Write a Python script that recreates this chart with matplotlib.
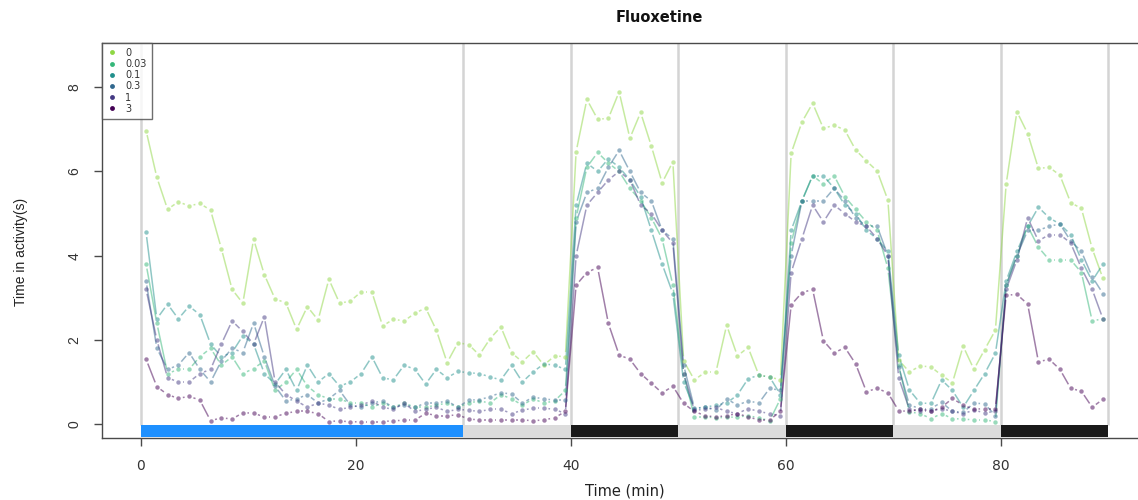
import numpy as np
import matplotlib
matplotlib.use("Agg")
import matplotlib.pyplot as plt
from matplotlib.collections import LineCollection
from matplotlib.lines import Line2D
from matplotlib.patches import Rectangle

# ---- data: time in activity (s) per minute bin, by fluoxetine dose ----
time_min = np.arange(90) + 0.5

dose_labels = ["0", "0.03", "0.1", "0.3", "1", "3"]
dose_colors = ["#8FD744", "#35B779", "#21908C", "#31688E", "#443A83", "#440154"]

dose_0 = [6.97, 5.86, 5.10, 5.28, 5.18, 5.24, 5.08, 4.17, 3.20, 2.87,
          4.39, 3.55, 2.97, 2.88, 2.25, 2.79, 2.47, 3.44, 2.87, 2.92,
          3.14, 3.14, 2.33, 2.49, 2.45, 2.63, 2.76, 2.23, 1.46, 1.93,
          1.89, 1.64, 2.03, 2.31, 1.69, 1.48, 1.72, 1.40, 1.62, 1.60,
          6.47, 7.71, 7.24, 7.26, 7.89, 6.79, 7.40, 6.60, 5.73, 6.23,
          1.50, 1.05, 1.23, 1.23, 2.35, 1.62, 1.82, 1.16, 1.12, 1.05,
          6.43, 7.17, 7.62, 7.02, 7.10, 6.98, 6.51, 6.25, 6.01, 5.32,
          1.52, 1.24, 1.38, 1.36, 1.16, 0.98, 1.85, 1.30, 1.77, 2.23,
          5.70, 7.42, 6.90, 6.07, 6.10, 5.91, 5.26, 5.12, 4.17, 3.46]

dose_003 = [3.80, 2.40, 1.20, 1.30, 1.30, 1.60, 1.80, 1.40, 1.60, 1.20,
            1.32, 1.50, 0.80, 1.00, 1.30, 0.90, 0.70, 0.60, 0.60, 0.50,
            0.50, 0.40, 0.50, 0.40, 0.50, 0.40, 0.40, 0.45, 0.50, 0.40,
            0.50, 0.55, 0.50, 0.70, 0.60, 0.45, 0.60, 0.50, 0.55, 0.80,
            4.90, 6.10, 6.45, 6.20, 6.00, 5.60, 5.30, 4.90, 4.40, 3.30,
            1.20, 0.17, 0.17, 0.15, 0.16, 0.17, 0.20, 0.15, 0.08, 0.60,
            4.30, 5.30, 5.90, 5.70, 5.90, 5.40, 5.10, 4.80, 4.60, 3.70,
            1.40, 0.29, 0.25, 0.13, 0.25, 0.13, 0.12, 0.10, 0.10, 0.06,
            3.30, 4.00, 4.70, 4.20, 3.90, 3.90, 3.90, 3.60, 2.45, 2.50]

dose_01 = [4.55, 2.50, 2.85, 2.50, 2.80, 2.60, 1.90, 1.60, 1.70, 2.10,
           1.90, 1.20, 0.95, 1.30, 0.80, 1.40, 1.00, 1.20, 0.90, 1.00,
           1.20, 1.60, 1.10, 1.05, 1.40, 1.30, 0.95, 1.30, 1.10, 1.25,
           1.22, 1.20, 1.12, 1.05, 1.40, 1.00, 1.24, 1.43, 1.40, 1.30,
           5.20, 6.20, 6.00, 6.30, 6.10, 5.80, 5.40, 4.60, 3.80, 3.10,
           1.00, 0.37, 0.40, 0.45, 0.50, 0.69, 1.08, 1.16, 1.12, 0.70,
           4.60, 5.30, 5.90, 5.90, 5.60, 5.20, 5.00, 4.60, 4.40, 4.10,
           1.64, 0.81, 0.50, 0.49, 1.05, 0.80, 0.40, 0.80, 1.20, 1.68,
           3.40, 4.10, 4.70, 5.15, 4.90, 4.75, 4.50, 3.90, 3.40, 3.80]

dose_03 = [3.40, 1.80, 1.30, 1.40, 1.70, 1.30, 1.00, 1.50, 1.80, 1.70,
           2.40, 1.60, 0.90, 0.55, 0.60, 0.70, 0.50, 0.60, 0.80, 0.45,
           0.40, 0.50, 0.55, 0.40, 0.45, 0.40, 0.50, 0.50, 0.55, 0.40,
           0.57, 0.58, 0.65, 0.75, 0.71, 0.50, 0.64, 0.60, 0.57, 0.57,
           4.80, 5.50, 5.60, 6.10, 6.50, 6.00, 5.50, 5.30, 4.60, 4.40,
           1.40, 0.38, 0.40, 0.33, 0.60, 0.45, 0.55, 0.50, 0.85, 0.80,
           4.00, 5.30, 5.30, 5.30, 5.60, 5.30, 4.90, 4.70, 4.70, 4.00,
           1.36, 0.45, 0.37, 0.37, 0.52, 0.30, 0.28, 0.50, 0.48, 0.20,
           3.30, 4.00, 4.60, 4.60, 4.70, 4.75, 4.35, 4.10, 3.50, 3.10]

dose_1 = [3.20, 2.00, 1.10, 1.00, 1.00, 1.20, 1.30, 1.90, 2.45, 2.20,
          1.90, 2.55, 1.00, 0.70, 0.55, 0.40, 0.50, 0.45, 0.35, 0.40,
          0.45, 0.55, 0.40, 0.35, 0.50, 0.30, 0.35, 0.40, 0.30, 0.35,
          0.33, 0.30, 0.35, 0.35, 0.25, 0.33, 0.38, 0.38, 0.35, 0.25,
          4.00, 5.20, 5.50, 5.80, 6.00, 5.80, 5.20, 5.00, 4.60, 4.30,
          1.20, 0.33, 0.35, 0.40, 0.30, 0.25, 0.37, 0.30, 0.25, 0.20,
          3.60, 4.40, 5.20, 4.80, 5.20, 5.00, 4.80, 4.70, 4.40, 4.00,
          1.10, 0.35, 0.30, 0.30, 0.37, 0.30, 0.25, 0.33, 0.27, 0.30,
          3.20, 3.90, 4.90, 4.35, 4.50, 4.50, 4.30, 3.70, 3.20, 2.50]

dose_3 = [1.54, 0.89, 0.70, 0.61, 0.66, 0.57, 0.08, 0.15, 0.12, 0.27,
          0.26, 0.17, 0.17, 0.26, 0.30, 0.30, 0.25, 0.06, 0.08, 0.05,
          0.06, 0.06, 0.06, 0.08, 0.09, 0.09, 0.26, 0.20, 0.20, 0.22,
          0.12, 0.10, 0.10, 0.10, 0.10, 0.10, 0.08, 0.10, 0.15, 0.30,
          3.30, 3.60, 3.72, 2.39, 1.64, 1.54, 1.20, 0.97, 0.74, 0.90,
          0.49, 0.30, 0.20, 0.17, 0.20, 0.25, 0.17, 0.10, 0.10, 0.30,
          2.83, 3.12, 3.20, 1.98, 1.69, 1.82, 1.43, 0.77, 0.85, 0.74,
          0.32, 0.30, 0.37, 0.30, 0.40, 0.61, 0.45, 0.35, 0.37, 0.37,
          3.06, 3.08, 2.85, 1.48, 1.54, 1.30, 0.85, 0.78, 0.40, 0.59]

series = [dose_0, dose_003, dose_01, dose_03, dose_1, dose_3]

# light-phase schedule below the curves
phase_edges = [0, 30, 40, 50, 60, 70, 80, 90]
phase_colors = ["#1E90FF", "#DCDCDC", "#1A1A1A", "#DCDCDC", "#1A1A1A", "#DCDCDC", "#1A1A1A"]

# ---- figure ----
W, H, DPI = 1138, 500, 100
fig = plt.figure(figsize=(W / DPI, H / DPI), dpi=DPI)
ax = fig.add_axes([102 / W, 1 - 438 / H, 1045 / W, 395 / H])
ax.set_xlim(-3.6, 93.6)
ax.set_ylim(-0.33, 9.05)

frame_col = "#4a4a4a"
for s in ax.spines.values():
    s.set_color(frame_col)
    s.set_linewidth(1.0)
ax.spines["right"].set_visible(False)

# phase boundaries
for xe in phase_edges:
    ax.plot([xe, xe], [-0.03, 9.05], color="#d4d4d4", lw=1.8, zorder=1,
            solid_capstyle="butt")

# phase bars
for (x0, x1), c in zip(zip(phase_edges[:-1], phase_edges[1:]), phase_colors):
    ax.add_patch(Rectangle((x0, -0.31), x1 - x0, 0.28, facecolor=c,
                           edgecolor="none", zorder=2))


def draw_type_b(ax, x, y, color, gap_px=4.6, lw=1.1, alpha=0.5, ms=3.2):
    """Points joined by line segments that stop short of each point."""
    fig.canvas.draw()
    pts = ax.transData.transform(np.column_stack([x, y]))
    inv = ax.transData.inverted()
    segs = []
    for p, q in zip(pts[:-1], pts[1:]):
        d = q - p
        L = np.hypot(*d)
        if L <= 2 * gap_px + 0.8:
            continue
        u = d / L
        segs.append([inv.transform(p + u * gap_px), inv.transform(q - u * gap_px)])
    lc = LineCollection(segs, colors=color, linewidths=lw, alpha=alpha, zorder=3)
    ax.add_collection(lc)
    ax.plot(x, y, linestyle="none", marker="o", ms=ms, mec="none",
            mfc=color, alpha=alpha, zorder=4)


for vals, col in zip(series, dose_colors):
    draw_type_b(ax, time_min, np.asarray(vals), col)

# axes ticks and labels
ax.set_xticks([0, 20, 40, 60, 80])
ax.set_yticks([0, 2, 4, 6, 8])
ax.tick_params(axis="both", direction="out", length=6, width=1.0,
               color=frame_col, labelcolor="#333333")
ax.tick_params(axis="x", pad=9, labelsize=10)
ax.tick_params(axis="y", pad=9, labelsize=10)
for lab in ax.get_yticklabels():
    lab.set_rotation(90)
    lab.set_va("center")
    lab.set_family("Liberation Sans")

ax.set_xlabel("Time (min)", fontsize=10.5, color="#222222", labelpad=8)
ax.set_ylabel("Time in activity(s)", fontsize=10, color="#222222",
              family="Liberation Sans")
ax.yaxis.set_label_coords(-0.071, 0.47)
fig.text(659 / W, 1 - 17 / H, "Fluoxetine", ha="center", va="center",
         fontsize=10.5, fontweight="bold", color="#111111")

handles = [Line2D([], [], linestyle="none", marker="o", ms=3.5, mec="none",
                  mfc=c) for c in dose_colors]
leg = ax.legend(handles, dose_labels, loc="upper left", fontsize=7,
                frameon=True, fancybox=False, borderaxespad=0,
                handlelength=1.0, handletextpad=0.9, labelspacing=0.12,
                borderpad=0.5)
leg.get_frame().set_edgecolor(frame_col)
leg.get_frame().set_linewidth(1.0)
for t in leg.get_texts():
    t.set_color("#333333")

fig.savefig("out.png", dpi=DPI)
